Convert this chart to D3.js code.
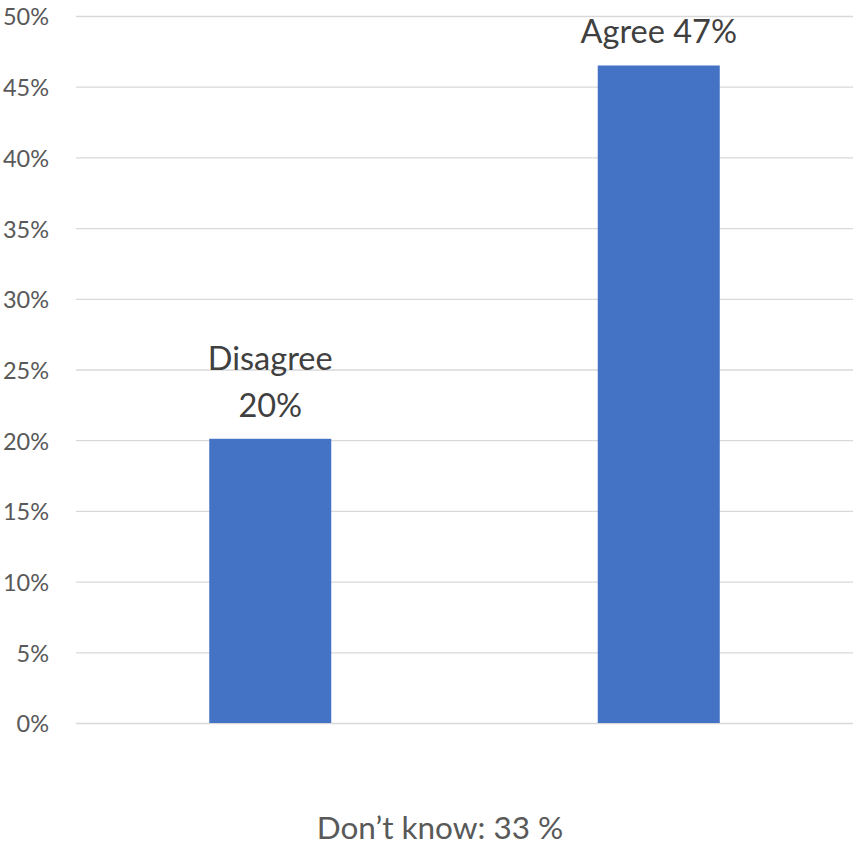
<!DOCTYPE html>
<html>
<head>
<meta charset="utf-8">
<script src="https://cdn.jsdelivr.net/npm/d3@7"></script>
<style>
  html, body { margin: 0; padding: 0; background: #fff; }
  svg { display: block; }
</style>
</head>
<body>
<svg id="chart" width="857" height="847"></svg>
<script>
// ---- data ----
const categories = ["Disagree", "Agree"];
const values = [20.1, 46.5];
const labelLines = [["Disagree", "20%"], ["Agree 47%"]];
const yTicks = [0, 5, 10, 15, 20, 25, 30, 35, 40, 45, 50];
const footnote = "Don\u2019t know: 33 %";

// ---- layout ----
const svg = d3.select("#chart");
const plotL = 76, plotR = 853, plotT = 16, plotB = 723;
const font = "Lato, 'Open Sans', sans-serif";

const x = d3.scaleBand().domain(categories).range([plotL, plotR]).padding(0);
const y = d3.scaleLinear().domain([0, 50]).range([plotB, plotT]);
const barW = 122;

// axis + gridlines
const axis = d3.axisLeft(y)
  .tickValues(yTicks)
  .tickFormat(d => d + "%")
  .tickSizeInner(-(plotR - plotL))
  .tickSizeOuter(0)
  .tickPadding(27);

const g = svg.append("g").attr("transform", `translate(${plotL},0)`).call(axis);
g.select(".domain").remove();
g.selectAll(".tick line").attr("stroke", "#d9d9d9").attr("stroke-width", 1.3);
g.selectAll(".tick text")
  .attr("fill", "#595959")
  .style("font-family", font)
  .style("font-size", "23.5px")
  .attr("dy", "0.38em");

// bars
svg.append("g").selectAll("rect")
  .data(categories)
  .join("rect")
  .attr("x", (d) => x(d) + x.bandwidth() / 2 - barW / 2)
  .attr("width", barW)
  .attr("y", (d, i) => y(values[i]))
  .attr("height", (d, i) => y(0) - y(values[i]))
  .attr("fill", "#4472C4");

// data labels
const lineH = 47;
categories.forEach((c, i) => {
  const lines = labelLines[i];
  const cx = x(c) + x.bandwidth() / 2;
  const baseY = y(values[i]) - 22;
  lines.forEach((t, j) => {
    svg.append("text")
      .attr("x", cx)
      .attr("y", baseY - (lines.length - 1 - j) * lineH)
      .attr("text-anchor", "middle")
      .attr("fill", "#404040")
      .style("font-family", font)
      .style("font-size", "32.5px")
      .text(t);
  });
});

// footnote
svg.append("text")
  .attr("x", 440)
  .attr("y", 839)
  .attr("text-anchor", "middle")
  .attr("fill", "#595959")
  .style("font-family", font)
  .style("font-size", "31.5px")
  .text(footnote);
</script>
</body>
</html>
